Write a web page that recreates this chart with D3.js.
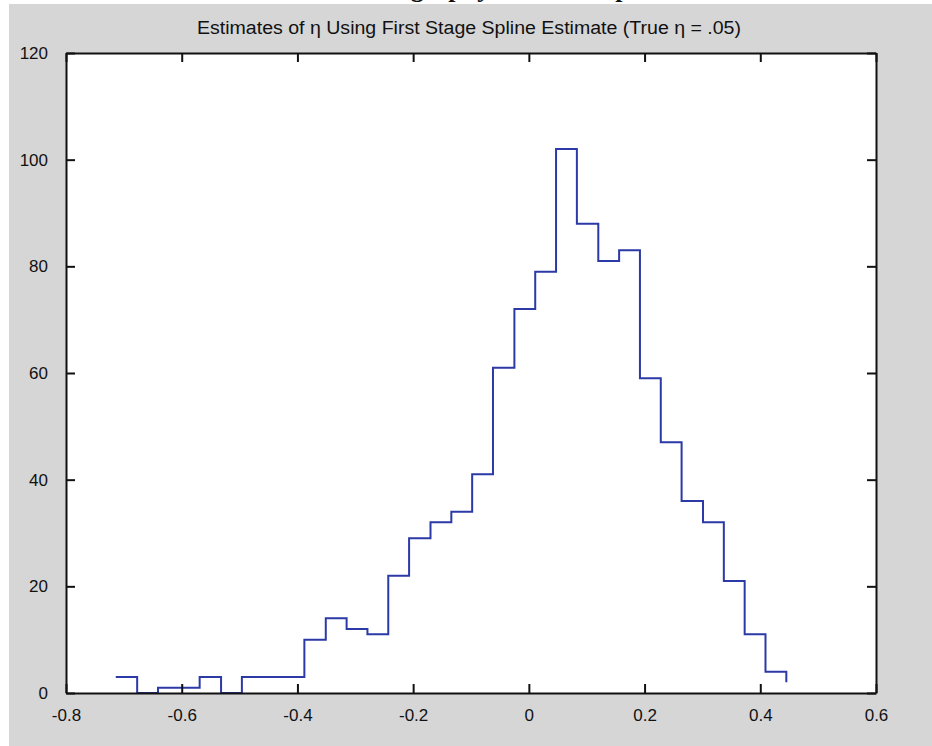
<!DOCTYPE html>
<html>
<head>
<meta charset="utf-8">
<script src="https://cdn.jsdelivr.net/npm/d3@7/dist/d3.min.js"></script>
<style>
  html, body { margin: 0; padding: 0; background: #ffffff; }
  svg { display: block; }
  text { font-family: "Liberation Sans", Arial, Helvetica, sans-serif; fill: #111; }
</style>
</head>
<body>
<svg id="chart" width="932" height="746"></svg>
<script>
// ---- data ----
const binEdges = [-0.714, -0.677, -0.641, -0.605, -0.569, -0.532, -0.496, -0.460, -0.424, -0.388,
                  -0.351, -0.315, -0.279, -0.243, -0.207, -0.170, -0.134, -0.098, -0.062, -0.025,
                   0.011,  0.047,  0.083,  0.120,  0.156,  0.192,  0.228,  0.264,  0.301,  0.337,
                   0.373,  0.409,  0.445];
const counts = [3, 0, 1, 1, 3, 0, 3, 3, 3, 10,
                14, 12, 11, 22, 29, 32, 34, 41, 61, 72,
                79, 102, 88, 81, 83, 59, 47, 36, 32, 21,
                11, 4, 2];
const xTicks = [-0.8, -0.6, -0.4, -0.2, 0, 0.2, 0.4, 0.6];
const xTickLabels = ["-0.8", "-0.6", "-0.4", "-0.2", "0", "0.2", "0.4", "0.6"];
const yTicks = [0, 20, 40, 60, 80, 100, 120];
const yTickLabels = ["0", "20", "40", "60", "80", "100", "120"];
const titleText = "Estimates of \u03b7 Using First Stage Spline Estimate (True \u03b7 = .05)";

// ---- layout ----
const svg = d3.select("#chart");
const W = 932, H = 746;
const plot = { left: 66, right: 876, top: 53, bottom: 693 };

// grey figure background (top rows are white page)
svg.append("rect").attr("x", 9).attr("y", 4).attr("width", W - 9).attr("height", H - 4)
   .attr("fill", "#d6d6d6");

// cut-off bold heading from the page above (only descenders visible, as in the reference)
svg.append("text")
   .attr("x", 500).attr("y", -3)
   .attr("text-anchor", "middle")
   .style("font-family", "'Liberation Serif', 'Times New Roman', serif")
   .style("font-weight", "bold")
   .style("font-size", "26px")
   .text("Histography of the Sample");

const x = d3.scaleLinear().domain([-0.8, 0.6]).range([plot.left, plot.right]);
const y = d3.scaleLinear().domain([0, 120]).range([plot.bottom, plot.top]);

// white plot area
svg.append("rect").attr("x", plot.left).attr("y", plot.top)
   .attr("width", plot.right - plot.left).attr("height", plot.bottom - plot.top)
   .attr("fill", "#ffffff");

// stairs line
const pts = binEdges.map((e, i) => [e, counts[i]]);
const line = d3.line().x(d => x(d[0])).y(d => y(d[1])).curve(d3.curveStepAfter);
svg.append("path").datum(pts)
   .attr("d", line)
   .attr("fill", "none")
   .attr("stroke", "#2b3aa6")
   .attr("stroke-width", 2)
   .attr("stroke-linejoin", "miter");

// axes (ticks inside on all four sides)
const tickLen = 9;
const fmtX = (d, i) => xTickLabels[i];
const fmtY = (d, i) => yTickLabels[i];

const axB = svg.append("g").attr("transform", `translate(0,${plot.bottom})`)
   .call(d3.axisBottom(x).tickValues(xTicks).tickFormat(fmtX).tickSizeInner(-tickLen).tickSizeOuter(0).tickPadding(16));
const axT = svg.append("g").attr("transform", `translate(0,${plot.top})`)
   .call(d3.axisTop(x).tickValues(xTicks).tickFormat("").tickSizeInner(-tickLen).tickSizeOuter(0));
const axL = svg.append("g").attr("transform", `translate(${plot.left},0)`)
   .call(d3.axisLeft(y).tickValues(yTicks).tickFormat(fmtY).tickSizeInner(-tickLen).tickSizeOuter(0).tickPadding(18));
const axR = svg.append("g").attr("transform", `translate(${plot.right},0)`)
   .call(d3.axisRight(y).tickValues(yTicks).tickFormat("").tickSizeInner(-tickLen).tickSizeOuter(0));

[axB, axT, axL, axR].forEach(g => {
  g.selectAll(".domain").attr("stroke", "#111").attr("stroke-width", 2);
  g.selectAll(".tick line").attr("stroke", "#111").attr("stroke-width", 2);
  g.selectAll(".tick text").style("font-size", "17px").attr("fill", "#111")
   .style("font-family", "'Liberation Sans', Arial, Helvetica, sans-serif");
});
axB.selectAll(".tick text").attr("dy", "0.71em");

// title
svg.append("text")
   .attr("x", 469).attr("y", 34)
   .attr("text-anchor", "middle")
   .attr("textLength", 544)
   .attr("lengthAdjust", "spacingAndGlyphs")
   .style("font-size", "18px")
   .text(titleText);
</script>
</body>
</html>
